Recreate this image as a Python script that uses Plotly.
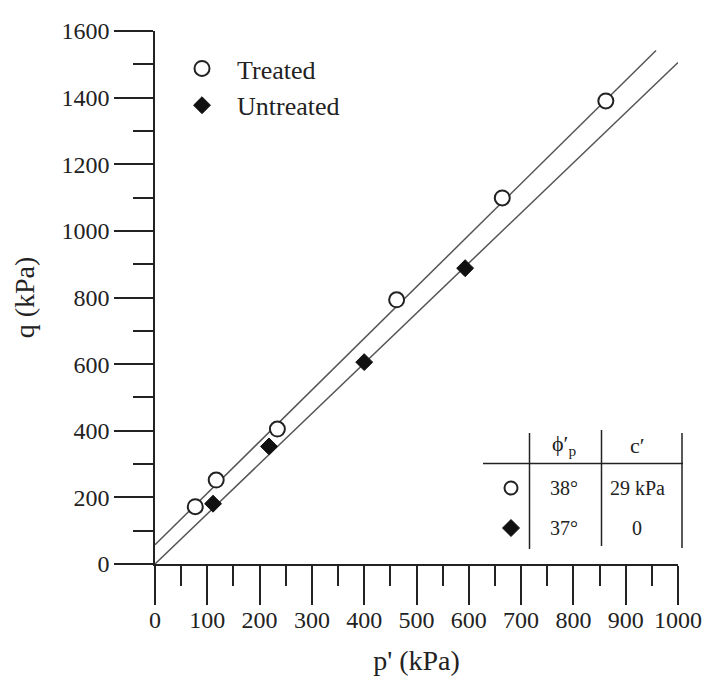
import numpy as np
import plotly.graph_objects as go

# Triaxial peak states, mean effective stress p' vs deviator stress q (kPa)
treated_p = [77, 117, 234, 462, 664, 862]
treated_q = [172, 252, 405, 793, 1099, 1390]
untreated_p = [111, 218, 400, 593]
untreated_q = [181, 353, 606, 888]

# Strength parameters shown in the inset table
phi_treated, c_treated = 38, 29
phi_untreated, c_untreated = 37, 0
line_end_treated, line_end_untreated = 958, 1000

FONT = "Liberation Serif"
INK = "#222222"


def mc_line(phi_deg, c, p_end):
    s = np.sin(np.radians(phi_deg))
    m = 6 * s / (3 - s)
    q0 = 6 * c * np.cos(np.radians(phi_deg)) / (3 - s)
    p = np.array([0.0, p_end])
    return p, q0 + m * p


fig = go.Figure()

for phi, c, pend in [(phi_treated, c_treated, line_end_treated),
                     (phi_untreated, c_untreated, line_end_untreated)]:
    px_, qy_ = mc_line(phi, c, pend)
    fig.add_trace(go.Scatter(x=px_, y=qy_, mode="lines",
                             line=dict(color="#555555", width=1.5),
                             showlegend=False, hoverinfo="skip"))

fig.add_trace(go.Scatter(
    x=treated_p, y=treated_q, mode="markers", name="Treated",
    marker=dict(symbol="circle", size=15, color="white",
                line=dict(color=INK, width=2))))
fig.add_trace(go.Scatter(
    x=untreated_p, y=untreated_q, mode="markers", name="Untreated",
    marker=dict(symbol="diamond", size=13, color="#111111",
                line=dict(color="#111111", width=1))))

# plot-area geometry in pixels, used to place the inset table
L, R, T, B = 155, 678, 31, 564


def xp(px):
    return (px - L) / (R - L)


def yp(py):
    return (B - py) / (B - T)


shapes = []
line_style = dict(color=INK, width=1.5)
shapes.append(dict(type="line", xref="paper", yref="paper",
                   x0=xp(483), x1=xp(683), y0=yp(463.5), y1=yp(463.5),
                   line=line_style))
for xv, ytop, ybot in [(529.5, 433, 549), (601.5, 430, 546), (682, 433, 548)]:
    shapes.append(dict(type="line", xref="paper", yref="paper",
                       x0=xp(xv), x1=xp(xv), y0=yp(ybot), y1=yp(ytop),
                       line=line_style))
# table row glyphs
shapes.append(dict(type="circle", xref="paper", yref="paper",
                   xsizemode="pixel", ysizemode="pixel",
                   xanchor=xp(511), yanchor=yp(488),
                   x0=-6.5, x1=6.5, y0=-6.5, y1=6.5,
                   line=dict(color=INK, width=2), fillcolor="white"))
shapes.append(dict(type="path", xref="paper", yref="paper",
                   xsizemode="pixel", ysizemode="pixel",
                   xanchor=xp(511), yanchor=yp(528),
                   path="M0,8.5 L8.5,0 L0,-8.5 L-8.5,0 Z",
                   line=dict(color="#111111", width=1), fillcolor="#111111"))

col1, col2 = 564, 637
rows = [445, 488, 528]
table_text = [
    (col1, rows[0], "ϕ′<sub>p</sub>", 22),
    (col2, rows[0], "c′", 22),
    (col1, rows[1], f"{phi_treated}°", 20),
    (col2, rows[1], f"{c_treated} kPa", 20),
    (col1, rows[2], f"{phi_untreated}°", 20),
    (col2, rows[2], f"{c_untreated}", 20),
]
annotations = [dict(x=xp(x), y=yp(y), xref="paper", yref="paper",
                    text=t, showarrow=False, xanchor="center", yanchor="middle",
                    font=dict(family=FONT, size=s, color=INK))
               for x, y, t, s in table_text]

axis_common = dict(
    showline=True, linecolor=INK, linewidth=1.5,
    ticks="outside", ticklen=39, tickwidth=1.5, tickcolor=INK,
    showgrid=False, zeroline=False, automargin=False,
    tickfont=dict(family=FONT, size=24, color=INK),
)

fig.update_layout(
    template="none",
    width=705, height=682,
    margin=dict(l=L, r=705 - R, t=T, b=682 - B, autoexpand=False),
    paper_bgcolor="white", plot_bgcolor="white",
    xaxis=dict(range=[0, 1000], dtick=100, tick0=0, ticklabelstandoff=-6,
               minor=dict(dtick=50, ticks="outside", ticklen=20,
                          tickwidth=1.5, tickcolor=INK),
               title=dict(text="p' (kPa)", standoff=19,
                          font=dict(family=FONT, size=28, color=INK)),
               **axis_common),
    yaxis=dict(range=[0, 1600], dtick=200, tick0=0,
               minor=dict(dtick=100, ticks="outside", ticklen=20,
                          tickwidth=1.5, tickcolor=INK),
               title=dict(text="q (kPa)", standoff=19,
                          font=dict(family=FONT, size=28, color=INK)),
               **axis_common),
    legend=dict(x=xp(167), y=yp(45), xanchor="left", yanchor="top",
                bgcolor="rgba(0,0,0,0)", itemwidth=60,
                font=dict(family=FONT, size=26, color=INK)),
    shapes=shapes,
    annotations=annotations,
)

fig.write_html("out.html")
